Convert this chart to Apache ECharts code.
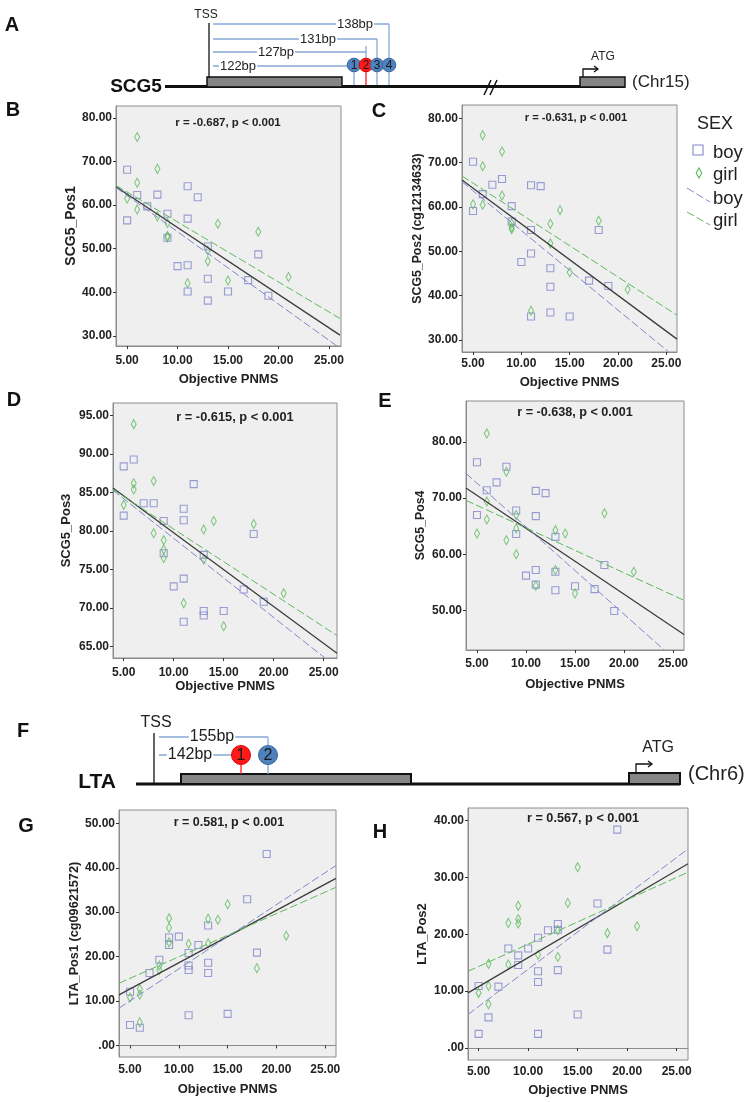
<!DOCTYPE html>
<html><head><meta charset="utf-8">
<script src="https://cdn.jsdelivr.net/npm/echarts@6/dist/echarts.min.js"></script>
<style>html,body{margin:0;padding:0;background:#fff}#c{width:754px;height:1102px}</style>
</head><body><div id="c"></div>
<script>
// ---------- data ----------
const xTicks = [5, 10, 15, 20, 25];
const boyX  = [5,5,6,7,8,9,9,10,11,11,11,11,12,13,13,13,15,17,18,19];
const girlX = [5,6,6,6,8,8,9,9,9,11,13,13,14,15,18,21];

// B: SCG5_Pos1
const bTicks = [30, 40, 50, 60, 70, 80];
const bBoyY  = [68.1,56.5,62.3,59.7,62.4,58.0,52.5,46.0,64.3,56.9,46.2,40.2,61.8,50.5,43.1,38.1,40.2,42.8,48.7,39.2];
const bGirlY = [61.5,75.6,65.1,59.0,68.3,57.4,55.9,52.9,52.6,42.1,49.6,47.1,55.7,42.7,53.9,43.5];
const bFitAll  = [[3.9,64.2],[26.1,30.2]];
const bFitBoy  = [[3.9,64.0],[26.1,27.2]];
const bFitGirl = [[3.9,64.5],[26.1,34.0]];

// C: SCG5_Pos2
const cTicks = [30, 40, 50, 60, 70, 80];
const cBoyY  = [70.2,59.1,62.9,65.0,66.3,60.2,56.7,47.6,64.9,54.8,49.5,35.3,64.7,46.2,42.0,36.2,35.3,43.4,54.8,42.2];
const cGirlY = [60.6,76.2,69.2,60.5,72.5,62.6,56.3,55.4,55.0,36.6,56.2,51.8,59.3,45.3,56.9,41.4];
const cFitAll  = [[3.86,66.1],[26.1,30.2]];
const cFitBoy  = [[3.86,65.7],[25.2,27.4]];
const cFitGirl = [[3.86,67.0],[26.1,35.6]];

// D: SCG5_Pos3
const dTicks = [65, 70, 75, 80, 85, 90, 95];
const dBoyY  = [88.4,82.0,89.3,83.6,83.6,81.3,77.1,72.8,82.9,81.4,73.8,68.2,86.1,76.9,69.6,69.0,69.6,72.4,79.6,70.8];
const dGirlY = [83.4,93.9,86.2,85.4,86.5,79.7,78.8,77.6,76.5,70.6,80.2,76.3,81.3,67.6,80.9,71.9];
const dFitAll  = [[3.93,85.6],[26.33,64.1]];
const dFitBoy  = [[3.93,85.3],[25.1,63.5]];
const dFitGirl = [[3.93,85.4],[26.33,66.4]];

// E: SCG5_Pos4
const eTicks = [50, 60, 70, 80];
const eBoyY  = [76.4,67.0,71.4,72.8,75.6,67.8,63.6,56.2,71.3,66.8,57.2,54.6,70.9,63.1,56.9,53.6,54.3,53.8,58.1,49.9];
const eGirlY = [63.7,81.5,69.4,66.2,74.7,62.5,67.0,64.6,60.0,54.4,64.3,57.2,63.7,53.0,67.3,56.9];
const eFitAll  = [[3.88,71.8],[26.12,45.7]];
const eFitBoy  = [[3.88,74.4],[24.1,42.95]];
const eFitGirl = [[3.88,69.6],[26.12,51.8]];

// G: LTA_Pos1
const gTicks = [0, 10, 20, 30, 40, 50];
const gBoyY  = [12.1,4.6,4.0,16.3,19.3,24.3,22.6,24.5,20.8,18.0,17.0,6.8,22.6,27.0,18.6,16.3,7.1,32.9,20.9,43.1];
const gGirlY = [10.8,12.7,11.4,5.2,18.0,17.0,28.6,26.5,23.2,22.9,28.5,23.0,28.3,31.8,17.4,24.7];
const gFitAll  = [[3.87,11.4],[26.1,37.6]];
const gFitBoy  = [[3.87,8.4],[26.1,40.5]];
const gFitGirl = [[3.87,14.0],[26.1,35.6]];

// H: LTA_Pos2
const hTicks = [0, 10, 20, 30, 40];
const hBoyY  = [10.9,2.5,5.4,10.8,17.5,16.3,14.6,17.5,19.4,13.5,11.6,2.5,20.7,21.8,20.8,13.7,5.9,25.4,17.3,38.4];
const hGirlY = [9.7,14.8,10.9,7.7,22.0,14.7,25.0,22.7,21.9,16.4,20.7,16.0,25.5,31.8,20.2,21.4];
const hFitAll  = [[3.93,9.7],[26.14,32.4]];
const hFitBoy  = [[3.93,5.9],[26.14,35.0]];
const hFitGirl = [[3.93,13.5],[26.14,30.9]];

const stats = ['r = -0.687, p < 0.001','r = -0.631, p < 0.001','r = -0.615, p < 0.001','r = -0.638, p < 0.001','r = 0.581, p < 0.001','r = 0.567, p < 0.001'];

// ---------- styling / layout ----------
const FONT = '"Liberation Sans", Arial, sans-serif';
const BOY = '#8286cc', GIRL = '#5cba5c', FIT = '#3c3c3c';
const zip = (xs, ys) => xs.map((x, i) => [x, ys[i]]);
const fmt = v => v === 0 ? '.00' : v.toFixed(2);

const panels = [
  {grid:{left:116, top:106, width:225, height:240}, xr:[3.9,26.2], yr:[27.7,82.7], ticks:bTicks, yName:'SCG5_Pos1', yns:14, yng:37, xng:26.5, lm:8.5, boy:bBoyY, girl:bGirlY, fits:[bFitAll,bFitBoy,bFitGirl], st:stats[0], sp:[228,123], ss:11.5},
  {grid:{left:462, top:105, width:215, height:247}, xr:[3.86,26.1], yr:[27.3,83.0], ticks:cTicks, yName:'SCG5_Pos2 (cg12134633)', yns:12.3, yng:38, xng:23.5, lm:5.7, boy:cBoyY, girl:cGirlY, fits:[cFitAll,cFitBoy,cFitGirl], st:stats[1], sp:[576,118], ss:11.2},
  {grid:{left:113, top:403, width:224, height:255}, xr:[3.93,26.33], yr:[63.48,96.65], ticks:dTicks, yName:'SCG5_Pos3', yns:13, yng:40.5, xng:21, lm:9, boy:dBoyY, girl:dGirlY, fits:[dFitAll,dFitBoy,dFitGirl], st:stats[2], sp:[235,417], ss:12.8},
  {grid:{left:466, top:401, width:218, height:249}, xr:[3.88,26.12], yr:[42.95,87.3], ticks:eTicks, yName:'SCG5_Pos4', yns:12.3, yng:39, xng:27.5, lm:7.3, boy:eBoyY, girl:eGirlY, fits:[eFitAll,eFitBoy,eFitGirl], st:stats[3], sp:[575,413], ss:12.6},
  {grid:{left:119, top:810, width:217, height:247}, xr:[3.87,26.1], yr:[-2.6,53.0], ticks:gTicks, yName:'LTA_Pos1 (cg09621572)', yns:12.7, yng:37.7, xng:25.5, lm:6.7, boy:gBoyY, girl:gGirlY, fits:[gFitAll,gFitBoy,gFitGirl], st:stats[4], sp:[229,823], ss:12.5},
  {grid:{left:468, top:808, width:220, height:252}, xr:[3.93,26.14], yr:[-2.1,42.2], ticks:hTicks, yName:'LTA_Pos2', yns:13, yng:39, xng:23.5, lm:6, boy:hBoyY, girl:hGirlY, fits:[hFitAll,hFitBoy,hFitGirl], st:stats[5], sp:[583,818], ss:12.7}
];

const grids = [], xAxes = [], yAxes = [], series = [], graphics = [];
panels.forEach((p, i) => {
  grids.push(Object.assign({show:true, backgroundColor:'#efefef', borderColor:'#8c8c8c', borderWidth:1, containLabel:false}, p.grid));
  xAxes.push({type:'value', gridIndex:i, min:p.xr[0], max:p.xr[1],
    name:'Objective PNMS', nameLocation:'middle', nameGap:p.xng,
    nameTextStyle:{fontFamily:FONT, fontWeight:'bold', fontSize:13, color:'#222'},
    axisLine:{show:true, lineStyle:{color:'#8c8c8c'}},
    axisTick:{show:true, length:3, customValues:xTicks, lineStyle:{color:'#333'}},
    axisLabel:{customValues:xTicks, formatter:fmt, margin:p.lm, fontFamily:FONT, fontWeight:'bold', fontSize:12, color:'#222'},
    splitLine:{show:false}});
  yAxes.push({type:'value', gridIndex:i, min:p.yr[0], max:p.yr[1],
    name:p.yName, nameLocation:'middle', nameGap:p.yng, nameRotate:90,
    nameTextStyle:{fontFamily:FONT, fontWeight:'bold', fontSize:p.yns, color:'#222'},
    axisLine:{show:true, lineStyle:{color:'#8c8c8c'}},
    axisTick:{show:true, length:3, customValues:p.ticks, lineStyle:{color:'#333'}},
    axisLabel:{customValues:p.ticks, formatter:fmt, margin:4, fontFamily:FONT, fontWeight:'bold', fontSize:12, color:'#222'},
    splitLine:{show:false}});
  series.push({type:'scatter', xAxisIndex:i, yAxisIndex:i, data:zip(boyX, p.boy), symbol:'rect', symbolSize:7,
    itemStyle:{color:'rgba(0,0,0,0)', borderColor:BOY, borderWidth:1.1}, z:2, silent:true});
  series.push({type:'scatter', xAxisIndex:i, yAxisIndex:i, data:zip(girlX, p.girl), symbol:'diamond', symbolSize:[5,9],
    itemStyle:{color:'rgba(0,0,0,0)', borderColor:GIRL, borderWidth:1.1}, z:2, silent:true});
  const ls = [{color:FIT, width:1.3, type:'solid'}, {color:BOY, width:1, type:[8,3]}, {color:GIRL, width:1, type:[8,3]}];
  p.fits.forEach((f, k) => series.push({type:'line', xAxisIndex:i, yAxisIndex:i, data:f, showSymbol:false, symbol:'none',
    clip:true, lineStyle:ls[k], z:3, silent:true}));
  graphics.push({type:'text', x:p.sp[0], y:p.sp[1], z:10, style:{text:p.st, font:'bold '+p.ss+'px '+FONT, fill:'#222', align:'center', verticalAlign:'middle'}});
});

// panel letters
[['A',12,25],['B',13,110],['C',379,111],['D',14,400],['E',385,401],['F',23,731],['G',26,826],['H',380,832]].forEach(l =>
  graphics.push({type:'text', x:l[1], y:l[2], style:{text:l[0], font:'bold 20px '+FONT, fill:'#111', align:'center', verticalAlign:'middle'}}));

// legend (SEX)
graphics.push({type:'text', x:697, y:124, style:{text:'SEX', font:'18px '+FONT, fill:'#222', align:'left', verticalAlign:'middle'}});
graphics.push({type:'rect', shape:{x:693, y:145, width:10, height:10}, style:{fill:'none', stroke:BOY, lineWidth:1.1}});
graphics.push({type:'polygon', shape:{points:[[699,168],[701.8,173],[699,178],[696.2,173]]}, style:{fill:'none', stroke:GIRL, lineWidth:1.1}});
graphics.push({type:'line', shape:{x1:687, y1:188, x2:710, y2:202}, style:{stroke:BOY, lineWidth:1, lineDash:[8,3]}});
graphics.push({type:'line', shape:{x1:687, y1:212, x2:710, y2:225}, style:{stroke:GIRL, lineWidth:1, lineDash:[8,3]}});
[['boy',153],['girl',175],['boy',199],['girl',221]].forEach(t =>
  graphics.push({type:'text', x:713, y:t[1], style:{text:t[0], font:'18.5px '+FONT, fill:'#222', align:'left', verticalAlign:'middle'}}));

// ---------- gene diagrams ----------
const DIM = '#86a9d8', BLUEC = '#4f81bd', REDC = '#ff1a1a';
function L(x1,y1,x2,y2,stroke,w){ graphics.push({type:'line', shape:{x1,y1,x2,y2}, style:{stroke, lineWidth:w||1}}); }
function T(text,x,y,size,opt){ opt=opt||{}; graphics.push({type:'text', x, y, z:opt.z||5, style:Object.assign({text, font:(opt.bold?'bold ':'')+size+'px '+FONT, fill:opt.fill||'#222', align:opt.align||'center', verticalAlign:'middle'}, opt.bg?{backgroundColor:'#fff', padding:[0,1]}:{})}); }
function R(x,y,w,h,lw){ graphics.push({type:'rect', shape:{x,y,width:w,height:h}, style:{fill:'#858585', stroke:'#111', lineWidth:lw||1.5}}); }
function C(cx,cy,r,fill,stroke,num,size){ graphics.push({type:'circle', shape:{cx,cy,r}, z:6, style:{fill, stroke, lineWidth:1}}); T(num,cx,cy+0.5,size,{z:7,fill:'#1a1a1a'}); }
function arrow(x,y0,y1,x1){ graphics.push({type:'polyline', shape:{points:[[x,y0],[x,y1],[x1,y1]]}, style:{stroke:'#111', lineWidth:1.3, fill:null}});
  graphics.push({type:'polyline', shape:{points:[[x1-4,y1-3],[x1,y1],[x1-4,y1+3]]}, style:{stroke:'#111', lineWidth:1.3, fill:null}}); }

// A: SCG5
T('SCG5',136,87,19,{bold:true,fill:'#111'});
L(165,86.5,625,86.5,'#111',3);
R(207,77,135,10);
R(580,77,45,10);
L(209,23,209,78,'#111',1.3);
T('TSS',206,15,12);
const aBars = [[24,389,355,'138bp'],[39,377,318,'131bp'],[52,366,276,'127bp'],[66,347,238,'122bp']];
aBars.forEach(b => { L(213,b[0],b[1],b[0],DIM,1.3); T(b[3],b[2],b[0],13,{bg:true}); });
L(389,24,389,59,DIM,1.3); L(377,39,377,59,DIM,1.3); L(366,46,366,59,DIM,1.3);
[[354,BLUEC,'1',DIM],[366,REDC,'2',REDC],[377,BLUEC,'3',DIM],[389,BLUEC,'4',DIM]].forEach(c => {
  L(c[0],71,c[0],85,c[3],1.3);
  C(c[0],65,6.8,c[1],c[1]===REDC?'#d00':'#3a66a0',c[2],12);
});
L(484,95,491,80,'#111',1.5); L(490,95,497,80,'#111',1.5);
arrow(583,77,69,598);
T('ATG',603,57,12);
T('(Chr15)',632,82,17,{align:'left'});

// F: LTA
T('LTA',97,782,21,{bold:true,fill:'#111'});
L(136,784,680,784,'#111',3);
R(181,774,230,10,2);
R(629,773,51,11,2);
L(154,733,154,784,'#111',1.3);
T('TSS',156,723,16);
L(159,737,268,737,DIM,1.3); T('155bp',212,737,16,{bg:true});
L(159,755,231,755,DIM,1.3); T('142bp',190,755,16,{bg:true});
L(268,737,268,746,DIM,1.3);
L(241,764,241,774,REDC,1.3); L(268,764,268,774,DIM,1.3);
C(241,755,9.5,REDC,'#d00','1',16);
C(268,755,9.5,BLUEC,'#3a66a0','2',16);
arrow(636,773,764,652);
T('ATG',658,748,16);
T('(Chr6)',688,774,20,{align:'left'});

const chart = echarts.init(document.getElementById('c'), null, {renderer:'canvas'});
chart.setOption({animation:false, backgroundColor:'#fff', grid:grids, xAxis:xAxes, yAxis:yAxes, series:series, graphic:{elements:graphics}});
</script></body></html>
